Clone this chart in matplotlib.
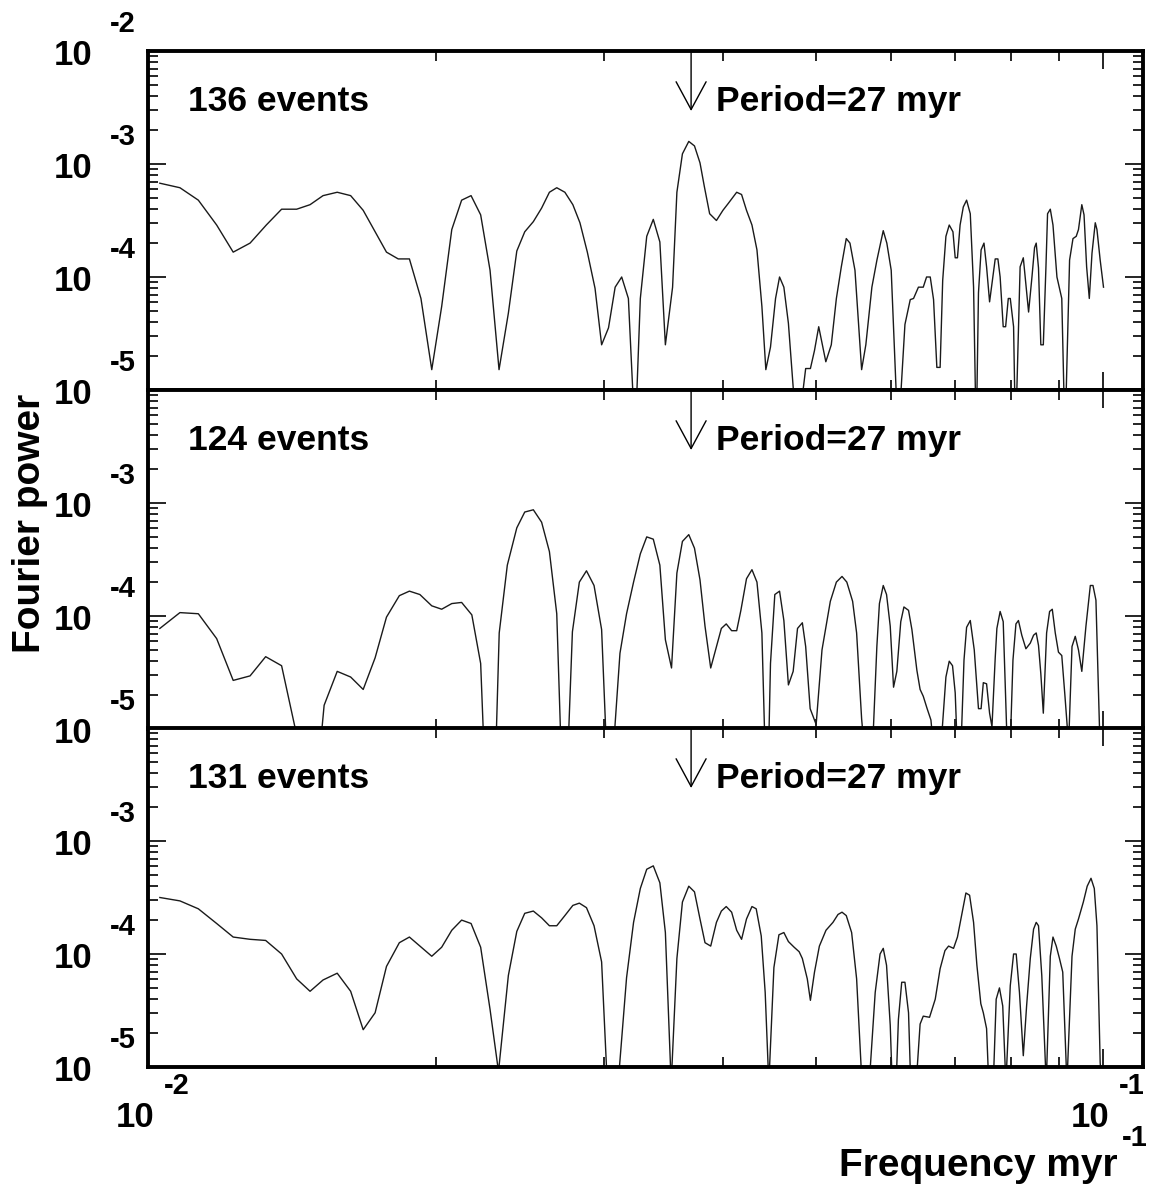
import numpy as np
import matplotlib
matplotlib.use("Agg")
import matplotlib.pyplot as plt
from matplotlib.ticker import LogLocator, NullFormatter

plt.rcParams['font.family'] = ['Liberation Sans', 'DejaVu Sans']

# frequency in myr^-1, power given as log10(Fourier power)
freq_136 = [0.01029, 0.0108, 0.01129, 0.0118, 0.01228, 0.01279, 0.0133, 0.0138, 0.01431, 0.01478,
            0.01525, 0.01578, 0.0163, 0.0168, 0.01729, 0.01777, 0.01828, 0.01878, 0.01931, 0.01982,
            0.0203, 0.0208, 0.0213, 0.02179, 0.0223, 0.02281, 0.02331, 0.02384, 0.02433, 0.0248,
            0.02532, 0.02583, 0.02632, 0.02679, 0.02732, 0.02785, 0.02833, 0.02884, 0.02938, 0.02985,
            0.03035, 0.03084, 0.03133, 0.03184, 0.03236, 0.03277, 0.03328, 0.03381, 0.03435, 0.03481,
            0.03542, 0.03579, 0.03627, 0.03683, 0.03734, 0.03784, 0.03824, 0.03873, 0.03937, 0.03999,
            0.0405, 0.04134, 0.04183, 0.04233, 0.04289, 0.04341, 0.04393, 0.04435, 0.04485, 0.0454,
            0.04584, 0.04632, 0.04683, 0.04782, 0.04882, 0.04938, 0.04987, 0.05038, 0.05125, 0.05193,
            0.05257, 0.0532, 0.05384, 0.05432, 0.05498, 0.05587, 0.05644, 0.05727, 0.05797, 0.05886,
            0.05937, 0.06, 0.06101, 0.06202, 0.06282, 0.06332, 0.06407, 0.06482, 0.06534, 0.06592,
            0.06645, 0.06698, 0.06751, 0.06793, 0.06846, 0.06901, 0.06963, 0.07001, 0.07039, 0.07084,
            0.07139, 0.07196, 0.0726, 0.07318, 0.07365, 0.07405, 0.07452, 0.07504, 0.07551, 0.07606,
            0.0771, 0.0776, 0.07802, 0.0786, 0.07906, 0.07957, 0.07995, 0.08059, 0.08097, 0.08187,
            0.0825, 0.08356, 0.08424, 0.08477, 0.08511, 0.08558, 0.08606, 0.08658, 0.08713, 0.08747,
            0.08805, 0.08862, 0.08947, 0.09052, 0.09122, 0.09224, 0.093, 0.09373, 0.09424, 0.095,
            0.09551, 0.09611, 0.09673, 0.09736, 0.09813, 0.09853, 0.0993, 0.1001]
logpow_136 = [-3.17, -3.21, -3.32, -3.54, -3.78, -3.70, -3.54, -3.40, -3.40, -3.36,
              -3.28, -3.25, -3.28, -3.41, -3.60, -3.78, -3.84, -3.84, -4.19, -4.82,
              -4.26, -3.58, -3.32, -3.28, -3.45, -3.94, -4.82, -4.32, -3.77, -3.60,
              -3.51, -3.39, -3.25, -3.21, -3.25, -3.36, -3.52, -3.78, -4.10, -4.60,
              -4.45, -4.09, -4.00, -4.19, -5.44, -4.19, -3.64, -3.49, -3.69, -4.60,
              -4.09, -3.25, -2.91, -2.80, -2.84, -2.99, -3.20, -3.44, -3.50, -3.41,
              -3.35, -3.25, -3.27, -3.41, -3.54, -3.76, -4.26, -4.82, -4.62, -4.19,
              -4.00, -4.09, -4.41, -5.44, -4.81, -4.81, -4.65, -4.44, -4.75, -4.60,
              -4.19, -3.91, -3.66, -3.70, -3.94, -4.82, -4.60, -4.09, -3.85, -3.59,
              -3.70, -3.94, -5.44, -4.42, -4.20, -4.19, -4.09, -4.09, -4.00, -4.00,
              -4.20, -4.80, -4.80, -4.03, -3.64, -3.54, -3.60, -3.83, -3.83, -3.54,
              -3.38, -3.32, -3.44, -4.09, -5.44, -4.14, -3.76, -3.70, -3.91, -4.22,
              -3.84, -3.84, -4.00, -4.44, -4.44, -4.19, -4.19, -4.44, -5.44, -3.91,
              -3.83, -4.31, -4.00, -3.74, -3.70, -3.92, -4.60, -4.60, -3.91, -3.44,
              -3.40, -3.54, -4.00, -4.19, -5.44, -3.85, -3.66, -3.64, -3.58, -3.36,
              -3.45, -3.91, -4.19, -3.79, -3.52, -3.58, -3.85, -4.09]

freq_124 = [0.01029, 0.0108, 0.01129, 0.0118, 0.01228, 0.01279, 0.01328, 0.0138, 0.01435, 0.01517,
            0.01529, 0.01578, 0.0163, 0.0168, 0.01729, 0.01777, 0.01833, 0.01878, 0.01926, 0.01982,
            0.0203, 0.0208, 0.0213, 0.02183, 0.0223, 0.02247, 0.02314, 0.02332, 0.02378, 0.02433,
            0.0248, 0.02532, 0.02583, 0.02632, 0.02679, 0.02706, 0.02754, 0.02782, 0.02829, 0.02878,
            0.02931, 0.02985, 0.03019, 0.03073, 0.0312, 0.0317, 0.03224, 0.03277, 0.03328, 0.03381,
            0.03435, 0.03481, 0.03533, 0.03579, 0.03627, 0.03683, 0.03734, 0.03784, 0.0383, 0.03883,
            0.03937, 0.03984, 0.04031, 0.04084, 0.04134, 0.04176, 0.04233, 0.04289, 0.04341, 0.04393,
            0.04425, 0.04466, 0.04485, 0.04532, 0.04584, 0.04632, 0.04683, 0.04737, 0.04787, 0.04843,
            0.04882, 0.04935, 0.05007, 0.05078, 0.05181, 0.05257, 0.05329, 0.05391, 0.05467, 0.0552,
            0.05587, 0.05618, 0.05732, 0.05749, 0.05796, 0.05832, 0.05886, 0.05933, 0.05986, 0.06034,
            0.06082, 0.0614, 0.06187, 0.06256, 0.06307, 0.06383, 0.06433, 0.06482, 0.06543, 0.06603,
            0.0664, 0.06767, 0.06846, 0.06901, 0.06956, 0.07001, 0.07034, 0.07101, 0.07151, 0.07196,
            0.0726, 0.0733, 0.07405, 0.07452, 0.07492, 0.07551, 0.07606, 0.0765, 0.0771, 0.07741,
            0.07802, 0.0786, 0.07924, 0.07995, 0.08047, 0.08105, 0.08154, 0.0822, 0.08302, 0.0839,
            0.08457, 0.08511, 0.08558, 0.08606, 0.08658, 0.08727, 0.0879, 0.08847, 0.08911, 0.0898,
            0.09052, 0.09122, 0.09202, 0.09278, 0.09351, 0.09424, 0.095, 0.09595, 0.09697, 0.09759,
            0.09829, 0.09913, 0.09976]
logpow_124 = [-4.11, -3.97, -3.98, -4.20, -4.57, -4.53, -4.36, -4.44, -5.10, -5.10,
              -4.79, -4.49, -4.54, -4.65, -4.37, -4.01, -3.82, -3.78, -3.81, -3.91,
              -3.94, -3.89, -3.88, -3.99, -4.42, -5.14, -5.14, -4.15, -3.55, -3.22,
              -3.08, -3.06, -3.17, -3.43, -3.98, -5.14, -5.14, -4.14, -3.70, -3.60,
              -3.73, -4.12, -5.14, -5.14, -4.33, -3.98, -3.70, -3.45, -3.30, -3.32,
              -3.55, -4.21, -4.46, -3.62, -3.34, -3.28, -3.40, -3.68, -4.09, -4.46,
              -4.27, -4.11, -4.07, -4.13, -4.13, -3.95, -3.67, -3.59, -3.70, -4.15,
              -5.14, -5.14, -4.42, -3.81, -3.78, -4.04, -4.61, -4.49, -4.11, -4.06,
              -4.27, -4.82, -4.96, -4.30, -3.87, -3.70, -3.65, -3.70, -3.87, -4.15,
              -4.91, -5.14, -5.14, -4.98, -4.27, -3.89, -3.73, -3.81, -4.09, -4.63,
              -4.49, -4.05, -3.92, -3.95, -4.12, -4.48, -4.65, -4.71, -4.82, -4.92,
              -5.14, -5.14, -4.54, -4.40, -4.44, -4.68, -5.14, -5.14, -4.39, -4.10,
              -4.04, -4.30, -4.82, -4.82, -4.59, -4.60, -4.86, -4.98, -4.37, -4.11,
              -3.96, -4.05, -4.98, -5.14, -4.39, -4.07, -4.04, -4.17, -4.29, -4.24,
              -4.17, -4.15, -4.26, -4.51, -4.86, -4.15, -3.96, -3.94, -4.15, -4.32,
              -4.35, -4.71, -5.14, -4.27, -4.18, -4.30, -4.49, -4.09, -3.73, -3.73,
              -3.86, -4.98, -5.27]

freq_131 = [0.01029, 0.0108, 0.01129, 0.0118, 0.01228, 0.01279, 0.01328, 0.0138, 0.01431, 0.01478,
            0.01525, 0.01578, 0.0163, 0.0168, 0.01729, 0.01777, 0.01833, 0.01878, 0.01926, 0.01982,
            0.0203, 0.0208, 0.0213, 0.02179, 0.0223, 0.02281, 0.02328, 0.02384, 0.02433, 0.0248,
            0.02532, 0.02583, 0.02632, 0.02679, 0.02732, 0.02785, 0.02829, 0.02878, 0.02931, 0.02985,
            0.03026, 0.03106, 0.0317, 0.03224, 0.03277, 0.03328, 0.03381, 0.03435, 0.03481, 0.0353,
            0.03579, 0.03627, 0.03683, 0.03734, 0.03784, 0.0383, 0.03883, 0.03937, 0.03984, 0.04031,
            0.04084, 0.04134, 0.04183, 0.04233, 0.04289, 0.04333, 0.04386, 0.04428,
            0.04467, 0.04522, 0.04577, 0.04632, 0.04683, 0.04748, 0.04806, 0.04843, 0.04901, 0.04938,
            0.04987, 0.05046, 0.05127, 0.05214, 0.05278, 0.05329, 0.05384, 0.05454, 0.0552, 0.05592,
            0.0569, 0.05773, 0.05841, 0.05886, 0.05933, 0.05986, 0.06015, 0.06072, 0.06105, 0.06154,
            0.06202, 0.06256, 0.06289, 0.06372, 0.06433, 0.06482, 0.06581, 0.06672, 0.06751, 0.0683,
            0.0689, 0.06973, 0.07039, 0.07113, 0.07184, 0.07248, 0.07318, 0.07377, 0.07447, 0.07492,
            0.07551, 0.07591, 0.07674, 0.07728, 0.07789, 0.07851, 0.07911, 0.07995, 0.08059, 0.0811,
            0.08174, 0.0825, 0.08316, 0.0839, 0.08457, 0.08511, 0.08558, 0.08626, 0.08719, 0.08805,
            0.08862, 0.08932, 0.09002, 0.09073, 0.09165, 0.09278, 0.09351, 0.09424, 0.09535, 0.09624,
            0.09713, 0.0979, 0.09853, 0.0993, 0.09964]
logpow_131 = [-3.50, -3.53, -3.60, -3.73, -3.85, -3.87, -3.88, -4.00, -4.22, -4.33,
              -4.23, -4.17, -4.33, -4.67, -4.52, -4.11, -3.90, -3.85, -3.93, -4.02,
              -3.94, -3.79, -3.70, -3.73, -3.94, -4.49, -5.04, -4.19, -3.80, -3.64,
              -3.62, -3.68, -3.75, -3.75, -3.66, -3.57, -3.55, -3.59, -3.75, -4.07,
              -5.15, -5.15, -4.21, -3.72, -3.42, -3.25, -3.22, -3.37, -3.81, -5.15,
              -4.04, -3.54, -3.40, -3.45, -3.69, -3.90, -3.93, -3.72, -3.62, -3.58,
              -3.63, -3.79, -3.87, -3.69, -3.58, -3.60, -3.84, -4.34,
              -5.15, -4.12, -3.83, -3.81, -3.89, -3.94, -3.98, -4.04, -4.22, -4.41,
              -4.16, -3.93, -3.79, -3.72, -3.65, -3.63, -3.66, -3.81, -4.22, -5.15,
              -5.15, -4.34, -4.00, -3.95, -4.10, -4.63, -5.15, -5.15, -4.58, -4.25,
              -4.25, -4.52, -5.15, -5.15, -4.62, -4.55, -4.56, -4.40, -4.13, -3.97,
              -3.93, -3.95, -3.85, -3.65, -3.46, -3.48, -3.72, -4.10, -4.44, -4.52,
              -4.66, -5.15, -5.15, -4.40, -4.30, -4.46, -5.15, -4.28, -4.00, -4.00,
              -4.34, -4.90, -4.46, -4.04, -3.78, -3.72, -3.75, -4.19, -5.15, -4.02,
              -3.85, -3.93, -4.04, -4.16, -5.15, -4.02, -3.78, -3.69, -3.54, -3.40,
              -3.33, -3.42, -3.75, -4.96, -5.15]

event_labels = ["136 events", "124 events", "131 events"]
period_myr = 27
panels = [(freq_136, logpow_136), (freq_124, logpow_124), (freq_131, logpow_131)]

fig = plt.figure(figsize=(11.51, 11.87), dpi=100)
W, H = 1151, 1187
left, right = 148 / W, 1143 / W
panel_h = 339 / H
bottoms = [1 - 390 / H, 1 - 729 / H, 1 - 1067 / H]


def decade_label(ax, exponent, axis="y"):
    # ROOT-style "10" with a raised exponent
    if axis == "y":
        trans = ax.get_yaxis_transform()
        xy = (0, 10.0 ** exponent)
        off_base, off_exp = (-40, -10), (-27.4, 13.7)
        ha_base = "right"
    else:
        trans = ax.get_xaxis_transform()
        xy = (10.0 ** exponent, 0)
        off_base, off_exp = (4.5, -43.5), (11.5, -19.5)
        ha_base = "right"
    ax.annotate("10", xy=xy, xycoords=trans, xytext=off_base, textcoords="offset points",
                ha=ha_base, va="baseline", fontsize=25, fontweight="bold")
    ax.annotate(str(exponent), xy=xy, xycoords=trans, xytext=off_exp, textcoords="offset points",
                ha="left", va="baseline", fontsize=21, fontweight="bold")


for i, (freq, logpow) in enumerate(panels):
    ax = fig.add_axes([left, bottoms[i], right - left, panel_h])
    ax.plot(freq, 10.0 ** np.array(logpow), color="#1a1a1a", lw=1.0)
    ax.set_xscale("log")
    ax.set_yscale("log")
    ax.set_xlim(0.01, 0.1101)
    ax.set_ylim(1e-5, 1e-2)

    for a in (ax.xaxis, ax.yaxis):
        a.set_major_locator(LogLocator(base=10, numticks=10))
        a.set_minor_locator(LogLocator(base=10, subs=np.arange(2, 10), numticks=10))
        a.set_minor_formatter(NullFormatter())
    ax.tick_params(which="both", direction="in", top=True, right=True,
                   labelbottom=False, labelleft=False, width=1.2)
    ax.tick_params(which="major", length=13)
    ax.tick_params(which="minor", length=7)
    for sp in ax.spines.values():
        sp.set_linewidth(2.8)

    exps = [-2, -3, -4, -5] if i == 0 else [-3, -4, -5]
    for e in exps:
        decade_label(ax, e, "y")

    ax.text(0.0402, 0.823, event_labels[i], transform=ax.transAxes,
            ha="left", va="baseline", fontsize=25.5, fontweight="bold")

    # arrow marking the 27 myr period
    ax.annotate("", xy=(1 / period_myr, 0.823), xytext=(1 / period_myr, 1.0),
                xycoords=ax.get_xaxis_transform(),
                arrowprops=dict(arrowstyle="->,head_length=1.0,head_width=0.54",
                                lw=1.0, color="black", shrinkA=0, shrinkB=0,
                                mutation_scale=20))
    ax.annotate("Period=%d myr" % period_myr, xy=(1 / period_myr, 0.823),
                xycoords=ax.get_xaxis_transform(), xytext=(18, 0), textcoords="offset points",
                ha="left", va="baseline", fontsize=25.5, fontweight="bold")

    if i == 2:
        decade_label(ax, -2, "x")
        decade_label(ax, -1, "x")

fig.text(30 / W, 1 - 523 / H, "Fourier power", rotation=90, ha="center", va="center",
         fontsize=28, fontweight="bold")
fig.text(1118 / W, 1 - 1176 / H, "Frequency myr", ha="right", va="baseline",
         fontsize=28, fontweight="bold")
fig.text(1122 / W, 1 - 1146 / H, "-1", ha="left", va="baseline",
         fontsize=21, fontweight="bold")

fig.savefig("out.png", dpi=100)
